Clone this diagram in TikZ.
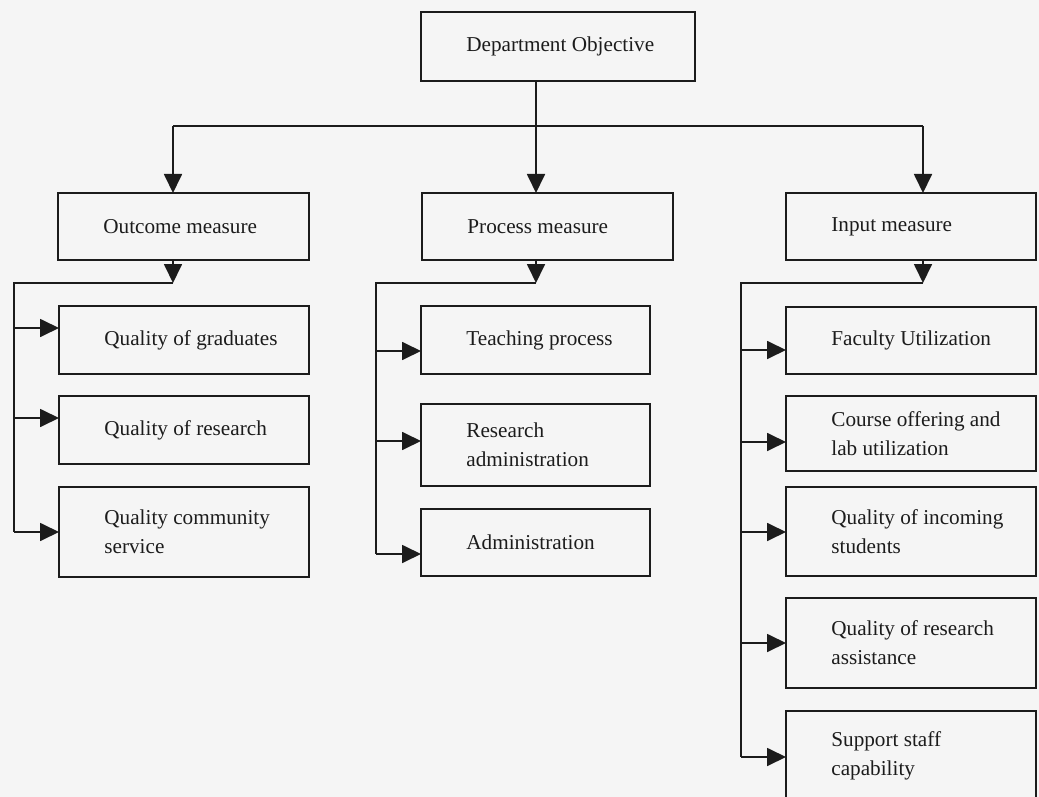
\documentclass[tikz,border=0pt]{standalone}
\usepackage{fontspec}
\setmainfont{Liberation Serif}
\usetikzlibrary{arrows.meta}
\definecolor{paper}{RGB}{245,245,245}
\definecolor{ink}{RGB}{28,28,28}
\tikzset{
  box/.style={draw=ink,line width=1.4pt,anchor=north west,inner sep=0pt,outer sep=0pt},
  lbl/.style={anchor=west,xshift=22.5pt,inner sep=0pt,align=left,text=ink,font=\fontsize{10.6}{14.5}\selectfont},
  link/.style={draw=ink,line width=0.9pt},
  arr/.style={-{Triangle[length=9.5pt,width=9pt]}},
}
\begin{document}
\begin{tikzpicture}[x=0.5pt,y=-0.5pt]
\path[use as bounding box,fill=paper](0,0)rectangle(1039,797);
\clip(0,0)rectangle(1039,797);
% objective and the three kinds of measure
\node[box,minimum width=137pt,minimum height=34.5pt,label={[lbl]west:Department Objective}](dept)at(421,12){};
\node[box,minimum width=125.5pt,minimum height=33.5pt,label={[lbl]west:Outcome measure}](outcome)at(58,193){};
\node[box,minimum width=125.5pt,minimum height=33.5pt,label={[lbl]west:Process measure}](process)at(422,193){};
\node[box,minimum width=125pt,minimum height=33.5pt,label={[lbl]west:Input measure}](input)at(786,193){};
% outcome column
\node[box,minimum width=125pt,minimum height=34pt,label={[lbl]west:Quality of graduates}](qgrad)at(59,306){};
\node[box,minimum width=125pt,minimum height=34pt,label={[lbl]west:Quality of research}](qres)at(59,396){};
\node[box,minimum width=125pt,minimum height=45pt,label={[lbl]west:{Quality community\\service}}](qcomm)at(59,487){};
% process column
\node[box,minimum width=114.5pt,minimum height=34pt,label={[lbl]west:Teaching process}](teach)at(421,306){};
\node[box,minimum width=114.5pt,minimum height=41pt,label={[lbl]west:{Research\\administration}}](resadm)at(421,404){};
\node[box,minimum width=114.5pt,minimum height=33.5pt,label={[lbl]west:Administration}](adm)at(421,509){};
% input column
\node[box,minimum width=125pt,minimum height=33.5pt,label={[lbl]west:Faculty Utilization}](faculty)at(786,307){};
\node[box,minimum width=125pt,minimum height=37.5pt,label={[lbl]west:{Course offering and\\lab utilization}}](course)at(786,396){};
\node[box,minimum width=125pt,minimum height=44.5pt,label={[lbl]west:{Quality of incoming\\students}}](incoming)at(786,487){};
\node[box,minimum width=125pt,minimum height=45pt,label={[lbl]west:{Quality of research\\assistance}}](resassist)at(786,598){};
\node[box,minimum width=125pt,minimum height=45pt,label={[lbl]west:{Support staff\\capability}}](support)at(786,711){};
% top level connectors
\coordinate(o-top)at(173,126);
\coordinate(p-top)at(536,126);
\coordinate(i-top)at(923,126);
\draw[link](o-top)--(i-top);
\draw[link,arr](dept.south-|p-top)--(process.north-|p-top);
\draw[link,arr](o-top)--(outcome.north-|o-top);
\draw[link,arr](i-top)--(input.north-|i-top);
% outcome bus
\coordinate(o-bus)at(173,283);
\coordinate(o-left)at(14,283);
\draw[link,arr](outcome.south-|o-bus)--(o-bus);
\draw[link](o-bus)--(o-left)--(o-left|-0,532);
\foreach \n/\y in {qgrad/328,qres/418,qcomm/532}
  \draw[link,arr](o-left|-0,\y)--(\n.west|-0,\y);
% process bus
\coordinate(p-bus)at(536,283);
\coordinate(p-left)at(376,283);
\draw[link,arr](process.south-|p-bus)--(p-bus);
\draw[link](p-bus)--(p-left)--(p-left|-0,554);
\foreach \n/\y in {teach/351,resadm/441,adm/554}
  \draw[link,arr](p-left|-0,\y)--(\n.west|-0,\y);
% input bus
\coordinate(i-bus)at(923,283);
\coordinate(i-left)at(741,283);
\draw[link,arr](input.south-|i-bus)--(i-bus);
\draw[link](i-bus)--(i-left)--(i-left|-0,757);
\foreach \n/\y in {faculty/350,course/442,incoming/532,resassist/643,support/757}
  \draw[link,arr](i-left|-0,\y)--(\n.west|-0,\y);
\end{tikzpicture}
\end{document}
